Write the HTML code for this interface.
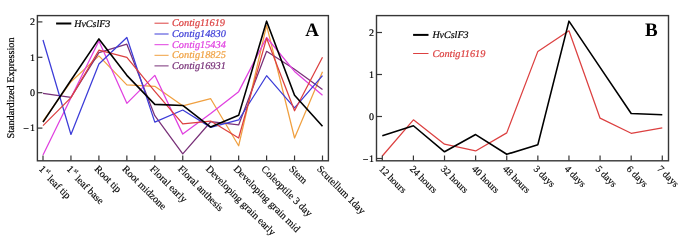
<!DOCTYPE html>
<html><head><meta charset="utf-8"><style>
html,body{margin:0;padding:0;background:#fff;}
svg{display:block;}
text{font-family:"Liberation Serif",serif;text-rendering:geometricPrecision;}
svg{will-change:transform;}
.t{stroke:#000;stroke-width:0.15px;}
.t2{stroke:#000;stroke-width:0.2px;}
.tl{stroke-width:0.2px;}
</style></head><body>
<svg width="685" height="249" viewBox="0 0 685 249">
<rect x="0" y="0" width="685" height="249" fill="#fff"/>

<polyline points="43.00,121.02 70.95,81.73 98.90,55.88 126.85,84.91 154.80,86.33 182.75,105.80 210.70,98.72 238.65,145.80 266.60,25.44 294.55,138.01 322.50,71.81" fill="none" stroke="#f0a040" stroke-width="1.25" stroke-linejoin="round"/>
<polyline points="43.00,93.41 70.95,97.30 98.90,52.70 126.85,44.20 154.80,115.71 182.75,153.94 210.70,121.73 238.65,124.91 266.60,51.28 294.55,69.34 322.50,89.51" fill="none" stroke="#783078" stroke-width="1.25" stroke-linejoin="round"/>
<polyline points="43.00,155.00 70.95,97.66 98.90,41.02 126.85,103.32 154.80,75.35 182.75,134.12 210.70,113.59 238.65,91.64 266.60,37.48 294.55,71.46 322.50,95.18" fill="none" stroke="#e040e0" stroke-width="1.25" stroke-linejoin="round"/>
<polyline points="43.00,39.95 70.95,134.47 98.90,64.03 126.85,37.48 154.80,122.08 182.75,110.05 210.70,127.39 238.65,119.96 266.60,75.71 294.55,107.92 322.50,75.71" fill="none" stroke="#3c3cd8" stroke-width="1.25" stroke-linejoin="round"/>
<polyline points="43.00,125.62 70.95,97.66 98.90,50.22 126.85,57.30 154.80,91.28 182.75,123.85 210.70,121.02 238.65,138.01 266.60,38.18 294.55,110.75 322.50,57.30" fill="none" stroke="#dc4040" stroke-width="1.25" stroke-linejoin="round"/>
<polyline points="43.00,122.08 70.95,80.31 98.90,38.89 126.85,75.35 154.80,104.38 182.75,105.44 210.70,127.04 238.65,115.36 266.60,21.19 294.55,95.18 322.50,126.33" fill="none" stroke="#000000" stroke-width="1.6" stroke-linejoin="round"/>
<rect x="37.4" y="15.6" width="291.0" height="145.20000000000002" fill="none" stroke="#363636" stroke-width="1.4"/>
<line x1="37.4" y1="21.90" x2="42.4" y2="21.90" stroke="#363636" stroke-width="1.2"/>
<text x="35" y="25.10" font-size="10" class="t2" text-anchor="end">2</text>
<line x1="37.4" y1="57.30" x2="42.4" y2="57.30" stroke="#363636" stroke-width="1.2"/>
<text x="35" y="60.50" font-size="10" class="t2" text-anchor="end">1</text>
<line x1="37.4" y1="92.70" x2="42.4" y2="92.70" stroke="#363636" stroke-width="1.2"/>
<text x="35" y="95.90" font-size="10" class="t2" text-anchor="end">0</text>
<line x1="37.4" y1="128.10" x2="42.4" y2="128.10" stroke="#363636" stroke-width="1.2"/>
<text x="35" y="131.30" font-size="10" class="t2" text-anchor="end"><tspan dy="0.45">&#8722;</tspan><tspan dx="1" dy="-0.85">1</tspan></text>
<line x1="43.00" y1="160.8" x2="43.00" y2="155.5" stroke="#363636" stroke-width="1.2"/>
<text x="38.40" y="169.60" font-size="10.2" class="t" transform="rotate(45 38.40 169.60)">1<tspan font-size="6" dx="1" dy="-4.3" style="stroke-width:0.1px">st</tspan><tspan dy="5.3"> leaf tip</tspan></text>
<line x1="70.95" y1="160.8" x2="70.95" y2="155.5" stroke="#363636" stroke-width="1.2"/>
<text x="66.20" y="169.60" font-size="10.2" class="t" transform="rotate(45 66.20 169.60)">1<tspan font-size="6" dx="1" dy="-4.3" style="stroke-width:0.1px">st</tspan><tspan dy="5.3"> leaf base</tspan></text>
<line x1="98.90" y1="160.8" x2="98.90" y2="155.5" stroke="#363636" stroke-width="1.2"/>
<text x="94.00" y="169.60" font-size="10.2" class="t" transform="rotate(45 94.00 169.60)">Root tip</text>
<line x1="126.85" y1="160.8" x2="126.85" y2="155.5" stroke="#363636" stroke-width="1.2"/>
<text x="121.80" y="169.60" font-size="10.2" class="t" transform="rotate(45 121.80 169.60)">Root midzone</text>
<line x1="154.80" y1="160.8" x2="154.80" y2="155.5" stroke="#363636" stroke-width="1.2"/>
<text x="149.60" y="169.60" font-size="10.2" class="t" transform="rotate(45 149.60 169.60)">Floral early</text>
<line x1="182.75" y1="160.8" x2="182.75" y2="155.5" stroke="#363636" stroke-width="1.2"/>
<text x="177.40" y="169.60" font-size="10.2" class="t" transform="rotate(45 177.40 169.60)">Floral anthesis</text>
<line x1="210.70" y1="160.8" x2="210.70" y2="155.5" stroke="#363636" stroke-width="1.2"/>
<text x="205.20" y="169.60" font-size="10.2" class="t" transform="rotate(45 205.20 169.60)">Developing grain early</text>
<line x1="238.65" y1="160.8" x2="238.65" y2="155.5" stroke="#363636" stroke-width="1.2"/>
<text x="233.00" y="169.60" font-size="10.2" class="t" transform="rotate(45 233.00 169.60)">Developing grain mid</text>
<line x1="266.60" y1="160.8" x2="266.60" y2="155.5" stroke="#363636" stroke-width="1.2"/>
<text x="260.80" y="169.60" font-size="10.2" class="t" transform="rotate(45 260.80 169.60)">Coleoptile 3 day</text>
<line x1="294.55" y1="160.8" x2="294.55" y2="155.5" stroke="#363636" stroke-width="1.2"/>
<text x="288.60" y="169.60" font-size="10.2" class="t" transform="rotate(45 288.60 169.60)">Stem</text>
<line x1="322.50" y1="160.8" x2="322.50" y2="155.5" stroke="#363636" stroke-width="1.2"/>
<text x="316.40" y="169.60" font-size="10.2" class="t" transform="rotate(45 316.40 169.60)">Scutellum 1day</text>
<text x="14" y="88" font-size="10.2" class="t2" text-anchor="middle" transform="rotate(-90 14 88)">Standardized Expression</text>
<text x="305.3" y="35.6" font-size="19" font-weight="bold">A</text>
<line x1="56.1" y1="23.5" x2="71.3" y2="23.5" stroke="#000" stroke-width="2"/>
<text x="74.2" y="27" font-size="10" font-style="italic" class="t2">HvCslF3</text>
<line x1="154.5" y1="23.2" x2="168.6" y2="23.2" stroke="#dc4040" stroke-width="1.0"/>
<text x="172" y="26.10" font-size="10.3" font-style="italic" fill="#dc4040" stroke="#dc4040" class="tl">Contig11619</text>
<line x1="154.5" y1="34.0" x2="168.6" y2="34.0" stroke="#3c3cd8" stroke-width="1.0"/>
<text x="172" y="36.90" font-size="10.3" font-style="italic" fill="#3c3cd8" stroke="#3c3cd8" class="tl">Contig14830</text>
<line x1="154.5" y1="44.7" x2="168.6" y2="44.7" stroke="#e040e0" stroke-width="1.0"/>
<text x="172" y="47.60" font-size="10.3" font-style="italic" fill="#e040e0" stroke="#e040e0" class="tl">Contig15434</text>
<line x1="154.5" y1="55.3" x2="168.6" y2="55.3" stroke="#f0a040" stroke-width="1.0"/>
<text x="172" y="58.20" font-size="10.3" font-style="italic" fill="#f0a040" stroke="#f0a040" class="tl">Contig18825</text>
<line x1="154.5" y1="65.9" x2="168.6" y2="65.9" stroke="#783078" stroke-width="1.0"/>
<text x="172" y="68.80" font-size="10.3" font-style="italic" fill="#783078" stroke="#783078" class="tl">Contig16931</text>
<polyline points="382.30,155.98 413.41,119.86 444.52,144.22 475.63,150.94 506.74,132.88 537.85,51.40 568.96,30.82 600.07,118.18 631.18,133.30 662.29,127.84" fill="none" stroke="#dc4040" stroke-width="1.25" stroke-linejoin="round"/>
<polyline points="382.30,135.82 413.41,125.74 444.52,151.78 475.63,134.56 506.74,154.30 537.85,144.64 568.96,21.16 600.07,67.36 631.18,113.56 662.29,114.82" fill="none" stroke="#000000" stroke-width="1.6" stroke-linejoin="round"/>
<rect x="376.5" y="15.6" width="292.0" height="145.20000000000002" fill="none" stroke="#363636" stroke-width="1.4"/>
<line x1="376.5" y1="32.50" x2="382.0" y2="32.50" stroke="#363636" stroke-width="1.2"/>
<text x="374" y="35.90" font-size="10" class="t2" text-anchor="end">2</text>
<line x1="376.5" y1="74.50" x2="382.0" y2="74.50" stroke="#363636" stroke-width="1.2"/>
<text x="374" y="77.90" font-size="10" class="t2" text-anchor="end">1</text>
<line x1="376.5" y1="116.50" x2="382.0" y2="116.50" stroke="#363636" stroke-width="1.2"/>
<text x="374" y="119.90" font-size="10" class="t2" text-anchor="end">0</text>
<line x1="376.5" y1="158.50" x2="382.0" y2="158.50" stroke="#363636" stroke-width="1.2"/>
<text x="374" y="161.90" font-size="10" class="t2" text-anchor="end"><tspan dy="1">&#8722;</tspan><tspan dx="0.5" dy="-1">1</tspan></text>
<line x1="382.30" y1="160.8" x2="382.30" y2="155.5" stroke="#363636" stroke-width="1.2"/>
<text x="378.40" y="169.60" font-size="9.9" class="t" transform="rotate(45 378.40 169.60)">12 hours</text>
<line x1="413.41" y1="160.8" x2="413.41" y2="155.5" stroke="#363636" stroke-width="1.2"/>
<text x="409.34" y="169.60" font-size="9.9" class="t" transform="rotate(45 409.34 169.60)">24 hours</text>
<line x1="444.52" y1="160.8" x2="444.52" y2="155.5" stroke="#363636" stroke-width="1.2"/>
<text x="440.28" y="169.60" font-size="9.9" class="t" transform="rotate(45 440.28 169.60)">32 hours</text>
<line x1="475.63" y1="160.8" x2="475.63" y2="155.5" stroke="#363636" stroke-width="1.2"/>
<text x="471.22" y="169.60" font-size="9.9" class="t" transform="rotate(45 471.22 169.60)">40 hours</text>
<line x1="506.74" y1="160.8" x2="506.74" y2="155.5" stroke="#363636" stroke-width="1.2"/>
<text x="502.16" y="169.60" font-size="9.9" class="t" transform="rotate(45 502.16 169.60)">48 hours</text>
<line x1="537.85" y1="160.8" x2="537.85" y2="155.5" stroke="#363636" stroke-width="1.2"/>
<text x="533.10" y="169.60" font-size="9.9" class="t" transform="rotate(45 533.10 169.60)">3 days</text>
<line x1="568.96" y1="160.8" x2="568.96" y2="155.5" stroke="#363636" stroke-width="1.2"/>
<text x="564.04" y="169.60" font-size="9.9" class="t" transform="rotate(45 564.04 169.60)">4 days</text>
<line x1="600.07" y1="160.8" x2="600.07" y2="155.5" stroke="#363636" stroke-width="1.2"/>
<text x="594.98" y="169.60" font-size="9.9" class="t" transform="rotate(45 594.98 169.60)">5 days</text>
<line x1="631.18" y1="160.8" x2="631.18" y2="155.5" stroke="#363636" stroke-width="1.2"/>
<text x="625.92" y="169.60" font-size="9.9" class="t" transform="rotate(45 625.92 169.60)">6 days</text>
<line x1="662.29" y1="160.8" x2="662.29" y2="155.5" stroke="#363636" stroke-width="1.2"/>
<text x="656.86" y="169.60" font-size="9.9" class="t" transform="rotate(45 656.86 169.60)">7 days</text>
<text x="645" y="35.6" font-size="19" font-weight="bold">B</text>
<line x1="413.1" y1="34.9" x2="428.5" y2="34.9" stroke="#000" stroke-width="2"/>
<text x="432.4" y="38.2" font-size="10" font-style="italic" class="t2">HvCslF3</text>
<line x1="413.1" y1="53.5" x2="428.5" y2="53.5" stroke="#dc4040" stroke-width="1.0"/>
<text x="432.4" y="56.8" font-size="10.3" font-style="italic" fill="#dc4040" stroke="#dc4040" class="tl">Contig11619</text>
</svg></body></html>
